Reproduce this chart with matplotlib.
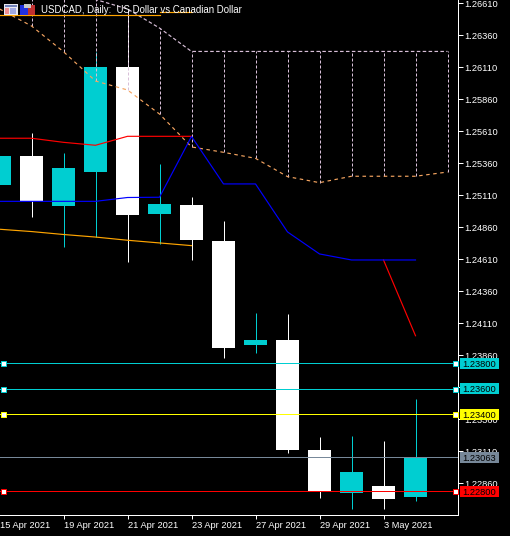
import matplotlib
matplotlib.use("Agg")
import matplotlib.pyplot as plt
from matplotlib.patches import Rectangle
from matplotlib.transforms import blended_transform_factory

plt.rcParams['font.family'] = ['Liberation Sans', 'DejaVu Sans']

## candles, first one is cut off by the left edge
opens = [1.25193, 1.25417, 1.25029, 1.25295, 1.26113, 1.24967, 1.25034, 1.24753, 1.23941, 1.23980, 1.23120, 1.22787, 1.22839, 1.22753]
highs = [1.25417, 1.25595, 1.25438, 1.26232, 1.26558, 1.25355, 1.25097, 1.24909, 1.24191, 1.24183, 1.23222, 1.23230, 1.23191, 1.23519]
lows = [1.25193, 1.24943, 1.24709, 1.24784, 1.24592, 1.24730, 1.24605, 1.23842, 1.23881, 1.23099, 1.22745, 1.22662, 1.22662, 1.22724]
closes = [1.25417, 1.25066, 1.25324, 1.26113, 1.24959, 1.25042, 1.24763, 1.23920, 1.23980, 1.23123, 1.22800, 1.22949, 1.22738, 1.23066]

## indicator lines
kijun = [1.25556, 1.25556, 1.25524, 1.25501, 1.25571, 1.25571, 1.25571]
tenkan = [1.25063, 1.25063, 1.25063, 1.25063, 1.25093, 1.25095, 1.25570, 1.25199, 1.25199, 1.24824, 1.24652, 1.24605, 1.24605, 1.24605]
red_tail = [1.24605, 1.24013]
chikou_low = [1.24845, 1.24827, 1.24804, 1.24784, 1.24759, 1.24738, 1.24717]
chikou_top_a = [1.26521, 1.26521, 1.26521, 1.26521, 1.26521, 1.26521]
chikou_top_b = [1.26542, 1.26542]
span_a = [1.26566, 1.26433, 1.26232, 1.26003, 1.25933, 1.25745, 1.25488, 1.25446, 1.25399, 1.25256, 1.25209, 1.25259, 1.25259, 1.25259, 1.25292]
span_b = [1.26800, 1.26800, 1.26800, 1.26640, 1.26566, 1.26417, 1.26234, 1.26234, 1.26234, 1.26234, 1.26234, 1.26234, 1.26234, 1.26234, 1.26234]

## horizontal levels
levels = [1.23800, 1.23600, 1.23400, 1.23063, 1.22800]
level_labels = ["1.23800", "1.23600", "1.23400", "1.23063", "1.22800"]
level_colors = ["#00CED1", "#00CED1", "#FFFF00", "#778899", "#FF0000"]
level_handles = [True, True, True, False, True]

## axis labels
price_ticks = [1.26610, 1.26360, 1.26110, 1.25860, 1.25610, 1.25360, 1.25110, 1.24860, 1.24610, 1.24360, 1.24110, 1.23860, 1.23610, 1.23360, 1.23110, 1.22860]
date_ticks = [2, 4, 6, 8, 10, 12]
date_labels = ["19 Apr 2021", "21 Apr 2021", "23 Apr 2021", "27 Apr 2021", "29 Apr 2021", "3 May 2021"]
first_date = "15 Apr 2021"
title = "USDCAD, Daily:  US Dollar vs Canadian Dollar"

W, H = 510, 536
px = 0.72  # one pixel in points
lw_ind = 0.85  # sloped lines look faint at exactly one pixel
fs = 6.7

fig = plt.figure(figsize=((W+0.01)/100, (H+0.01)/100), dpi=100, facecolor="black")
ax = fig.add_axes([0, (H-515.5)/H, 457.5/W, 515.5/H], facecolor="black")
ax.set_xlim(0.5/32, 458/32)
ax.set_ylim(1.226087, 1.26636)

## candles
for i in range(len(opens)):
	col = "#00CED1" if closes[i] > opens[i] else "#FFFFFF"
	ax.vlines(i, lows[i], highs[i], color=col, lw=px, zorder=2)
	ax.bar(i, abs(closes[i]-opens[i]), bottom=min(opens[i], closes[i]), width=23/32, color=col, lw=0, antialiased=False, zorder=3)

## cloud
x_cloud = list(range(len(span_a)))
ax.vlines(x_cloud, span_a, span_b, color="#D8BFD8", lw=px, linestyles=(0, (3, 2)), zorder=4)
ax.plot(x_cloud, span_b, color="#D8BFD8", lw=lw_ind, ls=(0, (3, 2)), zorder=4)
ax.plot(x_cloud, span_a, color="#F4A460", lw=lw_ind, ls=(0, (3, 3)), zorder=4)

## ichimoku lines
ax.plot(range(len(kijun)), kijun, color="#FF0000", lw=lw_ind, zorder=5)
ax.plot([12, 13], red_tail, color="#FF0000", lw=lw_ind, zorder=5)
ax.plot(range(len(tenkan)), tenkan, color="#0000FF", lw=lw_ind, zorder=5)
ax.plot(range(len(chikou_low)), chikou_low, color="#FFA500", lw=lw_ind, zorder=5)
ax.plot(range(len(chikou_top_a)), chikou_top_a, color="#FFA500", lw=lw_ind, zorder=5)
ax.plot([5, 6], chikou_top_b, color="#FFA500", lw=lw_ind, zorder=5)

## levels with the little squares and price tags
trans_ax = blended_transform_factory(ax.transAxes, ax.transData)
trans_fig = blended_transform_factory(fig.transFigure, ax.transData)
tag_h = 11/12800
for lev, lab, col, hand in zip(levels, level_labels, level_colors, level_handles):
	ax.axhline(lev, color=col, lw=px, zorder=6)
	if hand:
		ax.plot([2.5/457.5, 454.5/457.5], [lev, lev], ls="none", marker="s", ms=3.6, mfc="white", mec=col, mew=px, transform=trans_ax, clip_on=False, zorder=7)
	fig.add_artist(Rectangle((460/W, lev-tag_h/2), 39/W, tag_h, transform=trans_fig, fc=col, ec="none", zorder=10))
	fig.text(479.5/W, lev, lab, transform=trans_fig, color="black", fontsize=fs, ha="center", va="center_baseline", zorder=11)

## axes
for s in ["top", "left"]:
	ax.spines[s].set_visible(False)
for s in ["right", "bottom"]:
	ax.spines[s].set_color("white")
	ax.spines[s].set_linewidth(px)
ax.yaxis.tick_right()
ax.set_yticks(price_ticks)
ax.set_yticklabels(["%.5f" % p for p in price_ticks])
ax.tick_params(axis="y", colors="white", length=3.6, width=px, pad=1, labelsize=fs)
ax.set_xticks(date_ticks)
ax.set_xticklabels(date_labels, ha="left")
ax.tick_params(axis="x", colors="white", length=2.9, width=px, pad=1, labelsize=fs)
fig.text(0, (H-520.5)/H, first_date, color="white", fontsize=fs, ha="left", va="top")

## top left icons and title
over = fig.add_axes([0, 0, 1, 1], facecolor="none", zorder=20)
over.set_xlim(0, W)
over.set_ylim(H, 0)
over.axis("off")
for x, y, w, h, c in [(3.5, 4, 14.5, 11, "#E8E8F0"), (4.5, 5, 12.5, 2.5, "#7080B8"), (5, 8, 4, 6, "#F09090"), (10, 8, 6, 6, "#A0A8E0"),
		(20, 5, 8, 10, "#2030E0"), (28, 5, 7, 10, "#C03030"), (24, 4, 7, 4, "#C8C8C8")]:
	over.add_patch(Rectangle((x, y), w, h, fc=c, ec="none", antialiased=False))
over.text(40.7, 12.7, title, color="white", fontsize=6.9, ha="left", va="baseline")

fig.savefig("out.png", dpi=100, facecolor="black")
